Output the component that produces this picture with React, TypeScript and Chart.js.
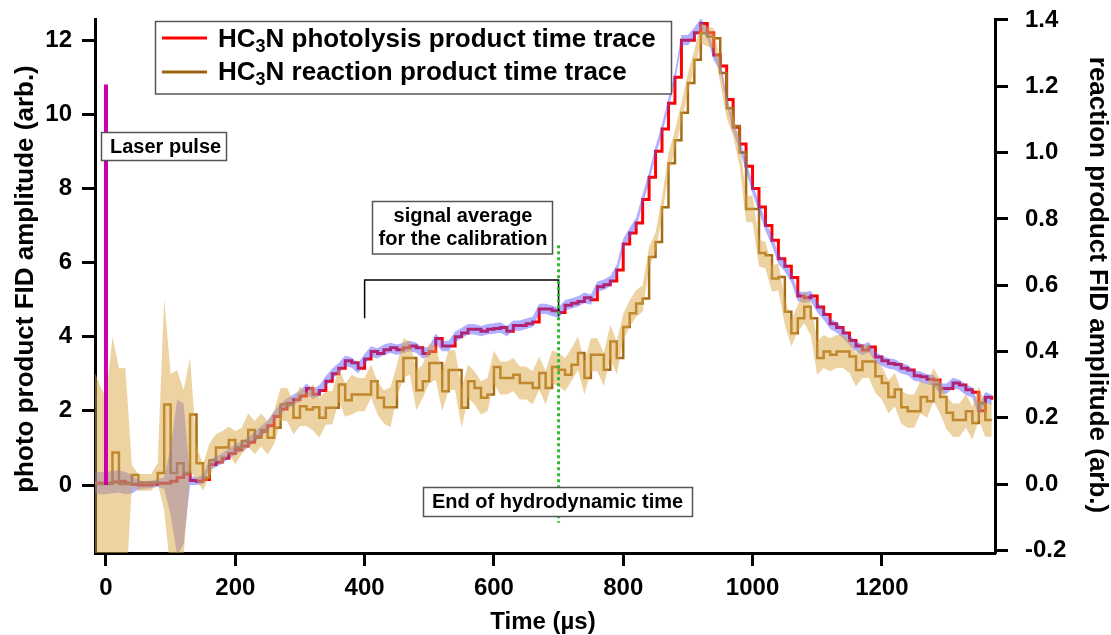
import React, { useEffect, useRef } from 'react';
import { Chart, registerables } from 'chart.js';

Chart.register(...registerables);

// ---- data (time in µs) ----
const TIMES = [
  -20, -10, 0, 10, 20, 30, 40, 50, 60, 70,
  80, 90, 100, 110, 120, 130, 140, 150, 160, 170,
  180, 190, 200, 210, 220, 230, 240, 250, 260, 270,
  280, 290, 300, 310, 320, 330, 340, 350, 360, 370,
  380, 390, 400, 410, 420, 430, 440, 450, 460, 470,
  480, 490, 500, 510, 520, 530, 540, 550, 560, 570,
  580, 590, 600, 610, 620, 630, 640, 650, 660, 670,
  680, 690, 700, 710, 720, 730, 740, 750, 760, 770,
  780, 790, 800, 810, 820, 830, 840, 850, 860, 870,
  880, 890, 900, 910, 920, 930, 940, 950, 960, 970,
  980, 990, 1000, 1010, 1020, 1030, 1040, 1050, 1060, 1070,
  1080, 1090, 1100, 1110, 1120, 1130, 1140, 1150, 1160, 1170,
  1180, 1190, 1200, 1210, 1220, 1230, 1240, 1250, 1260, 1270,
  1280, 1290, 1300, 1310, 1320, 1330, 1340, 1350, 1360, 1370,
];

// HC3N photolysis product (left axis)
const PHOTO = [
  0.05, 0.05, 0.05, 0.08, 0.1, 0.05, 0.02, 0.0, 0.0, 0.02,
  0.05, 0.05, 0.1, 0.2, 0.3, 0.12, 0.1, 0.15, 0.55, 0.62,
  0.72, 0.85, 0.95, 1.05, 1.15, 1.3, 1.45, 1.6, 1.85, 2.05,
  2.2, 2.3, 2.4, 2.6, 2.45, 2.55, 2.8, 3.0, 3.15, 3.35,
  3.3, 3.15, 3.4, 3.6, 3.55, 3.65, 3.7, 3.65, 3.7, 3.75,
  3.7, 3.55, 3.6, 3.95, 3.75, 3.75, 4.0, 4.1, 4.2, 4.2,
  4.15, 4.2, 4.22, 4.25, 4.15, 4.3, 4.3, 4.35, 4.4, 4.75,
  4.75, 4.7, 4.65, 4.85, 4.9, 4.95, 5.05, 5.0, 5.35, 5.4,
  5.5, 5.8, 6.5, 6.8, 7.07, 7.7, 8.3, 9.0, 9.6, 10.3,
  11.0, 12.0, 12.0, 12.2, 12.45, 12.2, 11.6, 11.3, 10.4, 9.65,
  9.2, 8.6, 8.0, 7.5, 7.0, 6.6, 6.1, 5.9, 5.6, 5.1,
  5.05, 5.1, 4.8, 4.6, 4.35, 4.25, 4.1, 3.9, 3.75, 3.64,
  3.72, 3.45, 3.35, 3.28, 3.25, 3.15, 3.1, 2.95, 2.92, 2.85,
  2.83, 2.6, 2.6, 2.75, 2.7, 2.57, 2.5, 2.0, 2.37, 2.3,
];

const PHOTO_ERR = [
  0.25, 0.3, 0.3, 0.3, 0.3, 0.3, 0.25, 0.12, 0.1, 0.1,
  0.1, 0.15, 0.9, 2.1, 1.9, 0.12, 0.1, 0.13, 0.14, 0.14,
  0.14, 0.14, 0.14, 0.14, 0.14, 0.14, 0.14, 0.14, 0.14, 0.14,
  0.14, 0.14, 0.14, 0.14, 0.14, 0.14, 0.14, 0.14, 0.14, 0.14,
  0.14, 0.14, 0.14, 0.14, 0.14, 0.14, 0.14, 0.14, 0.14, 0.14,
  0.14, 0.14, 0.14, 0.14, 0.14, 0.14, 0.14, 0.14, 0.14, 0.14,
  0.14, 0.14, 0.14, 0.14, 0.14, 0.14, 0.14, 0.14, 0.14, 0.14,
  0.14, 0.14, 0.14, 0.14, 0.14, 0.14, 0.14, 0.14, 0.14, 0.14,
  0.14, 0.14, 0.14, 0.14, 0.14, 0.14, 0.14, 0.14, 0.14, 0.14,
  0.14, 0.14, 0.14, 0.14, 0.14, 0.14, 0.14, 0.14, 0.14, 0.14,
  0.14, 0.14, 0.14, 0.14, 0.14, 0.14, 0.14, 0.14, 0.14, 0.14,
  0.14, 0.14, 0.14, 0.14, 0.14, 0.14, 0.14, 0.14, 0.14, 0.14,
  0.14, 0.14, 0.14, 0.14, 0.14, 0.14, 0.14, 0.14, 0.14, 0.14,
  0.14, 0.14, 0.14, 0.14, 0.14, 0.14, 0.14, 0.14, 0.14, 0.14,
];

// HC3N reaction product (right axis)
const REACTION = [
  0.0, 0.0, 0.0, 0.095, 0.0, 0.0, 0.027, 0.005, 0.005, 0.005,
  0.033, 0.24, 0.033, 0.063, 0.033, 0.21, 0.063, 0.02, 0.072, 0.11,
  0.11, 0.133, 0.11, 0.13, 0.163, 0.14, 0.163, 0.14, 0.17, 0.24,
  0.24, 0.2, 0.235, 0.225, 0.232, 0.2, 0.23, 0.23, 0.3, 0.253,
  0.27, 0.27, 0.27, 0.31, 0.26, 0.232, 0.232, 0.31, 0.38, 0.38,
  0.283, 0.31, 0.365, 0.365, 0.28, 0.344, 0.344, 0.23, 0.31, 0.29,
  0.26, 0.27, 0.353, 0.32, 0.32, 0.33, 0.305, 0.305, 0.29, 0.335,
  0.29, 0.353, 0.345, 0.33, 0.36, 0.395, 0.32, 0.39, 0.39, 0.345,
  0.43, 0.38, 0.474, 0.515, 0.545, 0.56, 0.685, 0.73, 0.835, 0.968,
  1.037, 1.12, 1.21, 1.28, 1.36, 1.35, 1.345, 1.24, 1.134, 1.08,
  1.0, 0.83, 0.83, 0.697, 0.69, 0.62, 0.625, 0.52, 0.455, 0.5,
  0.535, 0.5, 0.38, 0.4, 0.39, 0.4, 0.4, 0.385, 0.344, 0.37,
  0.37, 0.325, 0.305, 0.263, 0.285, 0.232, 0.22, 0.22, 0.263, 0.25,
  0.3, 0.263, 0.215, 0.193, 0.193, 0.22, 0.184, 0.244, 0.193, 0.193,
];

const REACTION_ERR = [
  0.35, 0.3, 0.26, 0.35, 0.35, 0.35, 0.03, 0.025, 0.025, 0.025,
  0.03, 0.32, 0.3, 0.28, 0.25, 0.17, 0.05, 0.04, 0.05, 0.04,
  0.05, 0.04, 0.05, 0.04, 0.05, 0.05, 0.05, 0.05, 0.05, 0.05,
  0.05, 0.05, 0.06, 0.05, 0.07, 0.06, 0.05, 0.05, 0.05, 0.05,
  0.06, 0.05, 0.05, 0.05, 0.05, 0.05, 0.06, 0.05, 0.06, 0.05,
  0.06, 0.05, 0.06, 0.05, 0.06, 0.06, 0.06, 0.06, 0.05, 0.05,
  0.05, 0.05, 0.05, 0.05, 0.05, 0.05, 0.05, 0.05, 0.05, 0.05,
  0.05, 0.05, 0.05, 0.05, 0.05, 0.05, 0.05, 0.05, 0.05, 0.05,
  0.05, 0.05, 0.04, 0.04, 0.04, 0.04, 0.03, 0.03, 0.03, 0.03,
  0.03, 0.03, 0.03, 0.03, 0.03, 0.03, 0.03, 0.03, 0.03, 0.03,
  0.04, 0.04, 0.04, 0.04, 0.04, 0.04, 0.04, 0.04, 0.04, 0.04,
  0.05, 0.05, 0.05, 0.05, 0.05, 0.05, 0.05, 0.05, 0.05, 0.05,
  0.05, 0.05, 0.05, 0.05, 0.05, 0.05, 0.05, 0.05, 0.05, 0.05,
  0.05, 0.05, 0.05, 0.05, 0.05, 0.05, 0.05, 0.05, 0.05, 0.05,
];

// annotation marks, in data units (time µs, left-axis amplitude)
const LASER_LINE = [{ x: 0, y: 0 }, { x: 0, y: 10.8 }];
const HYDRO_END_LINE = [{ x: 700, y: 6.47 }, { x: 700, y: -1.02 }];
const CALIB_BRACKET = [
  { x: 400, y: 4.5 }, { x: 400, y: 5.53 }, { x: 700, y: 5.53 }, { x: 700, y: 4.55 },
];

const X_TICKS = [0, 200, 400, 600, 800, 1000, 1200];
const LEFT_TICKS = [0, 2, 4, 6, 8, 10, 12];
const RIGHT_TICKS = [-0.2, 0, 0.2, 0.4, 0.6, 0.8, 1.0, 1.2, 1.4];

const LEFT_TITLE = 'photo product FID amplitude (arb.)';
const RIGHT_TITLE = 'reaction product FID amplitude (arb.)';
const X_TITLE = 'Time (µs)';
const LEGEND_1 = 'N photolysis product time trace';
const LEGEND_2 = 'N reaction product time trace';

const FONT = '"Liberation Sans", Arial, Helvetica, sans-serif';
const RED = '#ff0000';
const BROWN = '#9b6410';
const BROWN_TRACE = '#a46c14';
const TAN_FILL = 'rgba(220,165,70,0.5)';
const BLUE_FILL = 'rgba(80,80,255,0.45)';
const NONE = 'rgba(0,0,0,0)';

function drawChem(ctx: CanvasRenderingContext2D, x: number, y: number, rest: string) {
  ctx.textAlign = 'left';
  ctx.textBaseline = 'alphabetic';
  ctx.font = `bold 26px ${FONT}`;
  ctx.fillText('HC', x, y);
  let cx = x + ctx.measureText('HC').width;
  ctx.font = `bold 18px ${FONT}`;
  ctx.fillText('3', cx, y + 5);
  cx += ctx.measureText('3').width;
  ctx.font = `bold 26px ${FONT}`;
  ctx.fillText(rest, cx, y);
}

function box(ctx: CanvasRenderingContext2D, x: number, y: number, w: number, h: number) {
  ctx.fillStyle = '#fff';
  ctx.fillRect(x, y, w, h);
  ctx.strokeStyle = '#555';
  ctx.lineWidth = 1.5;
  ctx.strokeRect(x, y, w, h);
  ctx.fillStyle = '#000';
}

const overlayPlugin = {
  id: 'overlay',
  afterDraw(chart: any) {
    const ctx: CanvasRenderingContext2D = chart.ctx;
    ctx.save();
    ctx.fillStyle = '#000';
    // axis titles
    ctx.font = `bold 26px ${FONT}`;
    ctx.textAlign = 'center';
    ctx.textBaseline = 'alphabetic';
    ctx.save();
    ctx.translate(33, 279);
    ctx.rotate(-Math.PI / 2);
    ctx.fillText(LEFT_TITLE, 0, 0);
    ctx.restore();
    ctx.save();
    ctx.translate(1090, 285);
    ctx.rotate(Math.PI / 2);
    ctx.fillText(RIGHT_TITLE, 0, 0);
    ctx.restore();
    ctx.font = `bold 24px ${FONT}`;
    ctx.fillText(X_TITLE, 543, 629);

    // legend
    box(ctx, 155.5, 21.5, 516, 72.5);
    ctx.lineWidth = 3;
    ctx.strokeStyle = RED;
    ctx.beginPath(); ctx.moveTo(162, 38); ctx.lineTo(207, 38); ctx.stroke();
    ctx.strokeStyle = BROWN;
    ctx.beginPath(); ctx.moveTo(162, 72); ctx.lineTo(207, 72); ctx.stroke();
    ctx.fillStyle = '#000';
    drawChem(ctx, 218, 47, LEGEND_1);
    drawChem(ctx, 218, 80, LEGEND_2);

    // laser pulse label
    box(ctx, 101.5, 132.5, 125, 28);
    ctx.font = `bold 20px ${FONT}`;
    ctx.textAlign = 'left';
    ctx.fillText('Laser pulse', 110, 153);

    // calibration label
    box(ctx, 372.5, 201.5, 180, 52.5);
    ctx.font = `bold 20px ${FONT}`;
    ctx.textAlign = 'center';
    ctx.fillText('signal average', 463, 222);
    ctx.fillText('for the calibration', 463, 245);

    // hydrodynamic time label
    box(ctx, 423.5, 487.5, 269, 29);
    ctx.font = `bold 20px ${FONT}`;
    ctx.textAlign = 'left';
    ctx.fillText('End of hydrodynamic time', 432, 508);
    ctx.restore();
  },
};

const axisGrid = {
  display: true,
  drawOnChartArea: false,
  drawTicks: true,
  tickLength: 13,
  tickWidth: 3,
  tickColor: '#000',
  color: '#000',
};
const axisBorder = { display: true, color: '#000', width: 3 };
const tickFont = { family: FONT, size: 24, weight: 'bold' as const };

export default function App() {
  const ref = useRef<HTMLCanvasElement | null>(null);

  useEffect(() => {
    if (!ref.current) return;
    const pts = (ys: number[]) => TIMES.map((t, i) => ({ x: t, y: ys[i] }));
    const hi = (ys: number[], es: number[]) => TIMES.map((t, i) => ({ x: t, y: ys[i] + es[i] }));
    const lo = (ys: number[], es: number[]) => TIMES.map((t, i) => ({ x: t, y: ys[i] - es[i] }));

    const chart = new Chart(ref.current, {
      type: 'line',
      data: {
        datasets: [
          { label: 'Laser pulse', data: LASER_LINE, borderColor: '#cc00aa', borderWidth: 4, pointRadius: 0, yAxisID: 'y', order: 0, fill: false },
          { label: 'End of hydrodynamic time', data: HYDRO_END_LINE, borderColor: '#33b833', borderWidth: 3, borderDash: [3, 3], pointRadius: 0, yAxisID: 'y', order: 1, fill: false },
          { label: 'calibration window', data: CALIB_BRACKET, borderColor: '#000', borderWidth: 1.5, pointRadius: 0, yAxisID: 'y', order: 2, fill: false },
          { label: 'reaction upper', data: hi(REACTION, REACTION_ERR), borderColor: NONE, borderWidth: 0, pointRadius: 0, yAxisID: 'yR', order: 3, fill: 4, backgroundColor: TAN_FILL },
          { label: 'reaction lower', data: lo(REACTION, REACTION_ERR), borderColor: NONE, borderWidth: 0, pointRadius: 0, yAxisID: 'yR', order: 4, fill: false },
          { label: 'photo upper', data: hi(PHOTO, PHOTO_ERR), borderColor: NONE, borderWidth: 0, pointRadius: 0, yAxisID: 'y', order: 5, fill: 6, backgroundColor: BLUE_FILL },
          { label: 'photo lower', data: lo(PHOTO, PHOTO_ERR), borderColor: NONE, borderWidth: 0, pointRadius: 0, yAxisID: 'y', order: 6, fill: false },
          { label: 'HC3N reaction product time trace', data: pts(REACTION), borderColor: BROWN_TRACE, borderWidth: 2.5, pointRadius: 0, stepped: true, yAxisID: 'yR', order: 7, fill: false },
          { label: 'HC3N photolysis product time trace', data: pts(PHOTO), borderColor: RED, borderWidth: 3, pointRadius: 0, stepped: true, yAxisID: 'y', order: 8, fill: false },
        ],
      },
      options: {
        responsive: false,
        animation: false,
        devicePixelRatio: 1,
        layout: { padding: { top: 19, left: 0, right: 0, bottom: 0 } },
        plugins: {
          legend: { display: false },
          tooltip: { enabled: false },
          title: { display: false },
        },
        scales: {
          x: {
            type: 'linear',
            position: 'bottom',
            min: -17,
            max: 1375,
            afterBuildTicks: (s: any) => { s.ticks = X_TICKS.map((v) => ({ value: v })); },
            afterFit: (s: any) => { s.height = 82; s.paddingLeft = 0; s.paddingRight = 0; },
            grid: axisGrid,
            border: axisBorder,
            ticks: { font: tickFont, color: '#000', padding: 8, maxRotation: 0, autoSkip: false, callback: (v: any) => String(v) },
          },
          y: {
            type: 'linear',
            position: 'left',
            min: -1.834,
            max: 12.57,
            afterBuildTicks: (s: any) => { s.ticks = LEFT_TICKS.map((v) => ({ value: v })); },
            afterFit: (s: any) => { s.width = 95; s.paddingTop = 0; s.paddingBottom = 0; },
            grid: axisGrid,
            border: axisBorder,
            ticks: { font: tickFont, color: '#000', padding: 10, callback: (v: any) => String(v) },
          },
          yR: {
            type: 'linear',
            position: 'right',
            min: -0.208,
            max: 1.403,
            afterBuildTicks: (s: any) => { s.ticks = RIGHT_TICKS.map((v) => ({ value: v })); },
            afterFit: (s: any) => { s.width = 116; s.paddingTop = 0; s.paddingBottom = 0; },
            grid: axisGrid,
            border: axisBorder,
            ticks: { font: tickFont, color: '#000', padding: 17, callback: (v: any) => Number(v).toFixed(1) },
          },
        },
      },
      plugins: [overlayPlugin],
    } as any);
    return () => chart.destroy();
  }, []);

  return (
    <div style={{ position: 'fixed', left: 0, top: 0, width: 1111, height: 635, background: '#fff' }}>
      <canvas ref={ref} width={1111} height={635} style={{ display: 'block', width: 1111, height: 635 }} />
    </div>
  );
}
